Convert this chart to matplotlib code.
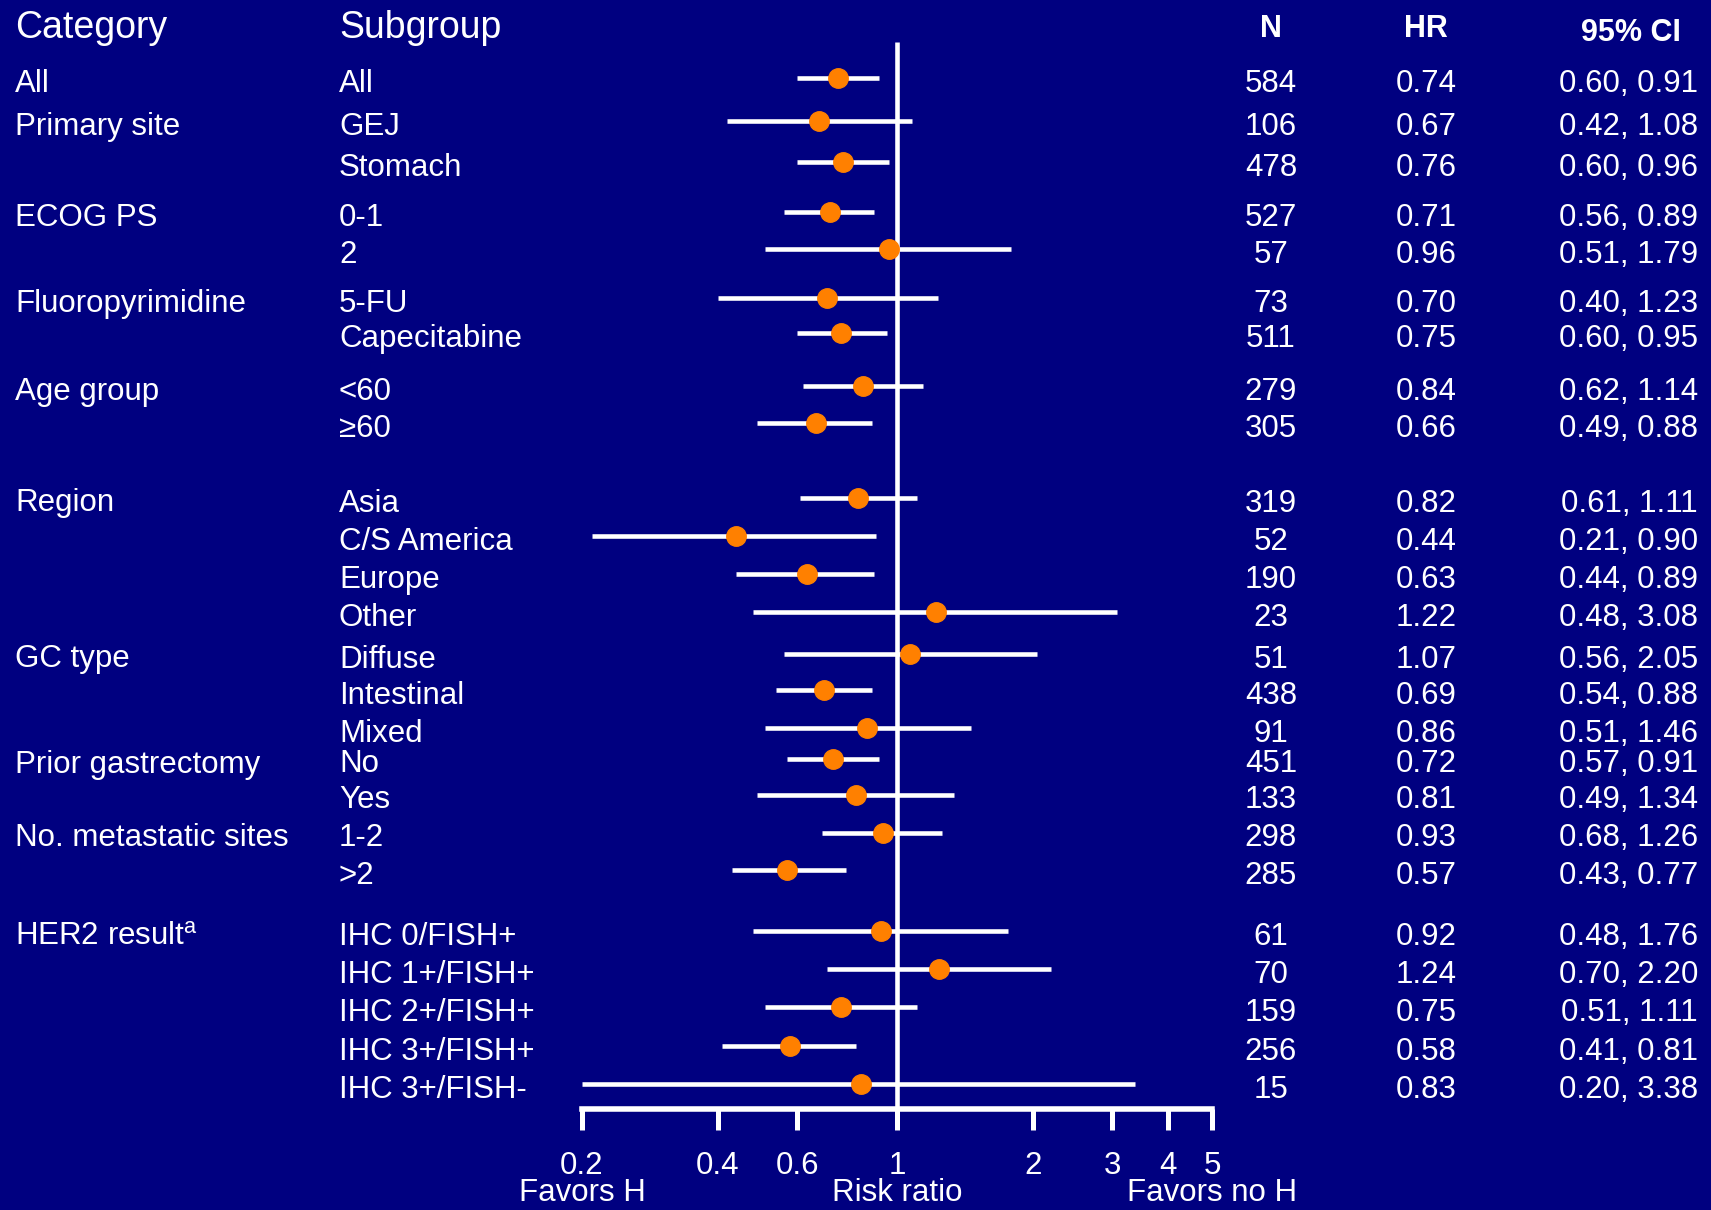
import matplotlib
matplotlib.use('Agg')
import matplotlib.pyplot as plt
import matplotlib.transforms as mtransforms

# Forest plot data: HR with 95% CI by subgroup
categories = ['All', 'Primary site', '', 'ECOG PS', '', 'Fluoropyrimidine', '',
              'Age group', '', 'Region', '', '', '', 'GC type', '', '',
              'Prior gastrectomy', '', 'No. metastatic sites', '',
              'HER2 result$^{\\mathrm{a}}$', '', '', '', '']
subgroups = ['All', 'GEJ', 'Stomach', '0-1', '2', '5-FU', 'Capecitabine',
             '<60', '\u226560', 'Asia', 'C/S America', 'Europe', 'Other',
             'Diffuse', 'Intestinal', 'Mixed', 'No', 'Yes', '1-2', '>2',
             'IHC 0/FISH+', 'IHC 1+/FISH+', 'IHC 2+/FISH+', 'IHC 3+/FISH+',
             'IHC 3+/FISH-']
n_patients = [584, 106, 478, 527, 57, 73, 511, 279, 305, 319, 52, 190, 23,
              51, 438, 91, 451, 133, 298, 285, 61, 70, 159, 256, 15]
hr = [0.74, 0.67, 0.76, 0.71, 0.96, 0.70, 0.75, 0.84, 0.66, 0.82, 0.44, 0.63,
      1.22, 1.07, 0.69, 0.86, 0.72, 0.81, 0.93, 0.57, 0.92, 1.24, 0.75, 0.58,
      0.83]
ci_low = [0.60, 0.42, 0.60, 0.56, 0.51, 0.40, 0.60, 0.62, 0.49, 0.61, 0.21,
          0.44, 0.48, 0.56, 0.54, 0.51, 0.57, 0.49, 0.68, 0.43, 0.48, 0.70,
          0.51, 0.41, 0.20]
ci_high = [0.91, 1.08, 0.96, 0.89, 1.79, 1.23, 0.95, 1.14, 0.88, 1.11, 0.90,
           0.89, 3.08, 2.05, 0.88, 1.46, 0.91, 1.34, 1.26, 0.77, 1.76, 2.20,
           1.11, 0.81, 3.38]
xticks = [0.2, 0.4, 0.6, 1, 2, 3, 4, 5]
xtick_labels = ['0.2', '0.4', '0.6', '1', '2', '3', '4', '5']

# layout: vertical position of each row in image pixels (top = 0)
row_y = [77.5, 121, 161.5, 211.5, 249, 298, 333, 386, 423, 497.5, 536, 574,
         612, 653.5, 689.5, 728, 758.5, 794.5, 832.5, 869.5, 931, 969, 1007,
         1045.5, 1083.5]

W, H = 1711, 1210
BG = '#000080'
ORANGE = '#FF8000'
plt.rcParams['font.family'] = ['Liberation Sans', 'DejaVu Sans']
plt.rcParams['mathtext.fontset'] = 'custom'
plt.rcParams['mathtext.rm'] = 'Liberation Sans'

fig = plt.figure(figsize=(W / 100, H / 100), dpi=100, facecolor=BG)
axis_y = 1109
ax = fig.add_axes([582 / W, (H - axis_y) / H, (1212 - 582) / W, axis_y / H])
ax.set_facecolor(BG)
ax.set_xscale('log')
ax.set_xlim(0.2, 5)
ax.set_ylim(axis_y, 0)

for s in ['top', 'left', 'right']:
    ax.spines[s].set_visible(False)
ax.spines['bottom'].set_color('white')
ax.spines['bottom'].set_linewidth(4)
ax.set_yticks([])
ax.set_xticks(xticks)
ax.set_xticklabels(xtick_labels)
ax.minorticks_off()
ax.tick_params(axis='x', direction='out', length=15, width=3.6, colors='white',
               labelsize=22.5, pad=15)

# reference line at 1
ax.vlines(1, 41.5, axis_y, color='white', lw=3.3, clip_on=False)

# CI bars and points
for i in range(len(hr)):
    ax.plot([ci_low[i], ci_high[i]], [row_y[i], row_y[i]], color='white',
            lw=3.3, solid_capstyle='butt', clip_on=False)
    ax.plot(hr[i], row_y[i], 'o', color=ORANGE, markersize=14, clip_on=False,
            zorder=3)

# text columns: x in figure pixels, y in row units
trans = mtransforms.blended_transform_factory(
    mtransforms.Affine2D().scale(1 / W, 1).__add__(fig.transFigure), ax.transData)
fs = 22.5
for i in range(len(subgroups)):
    yb = row_y[i] + 14
    if categories[i]:
        ax.text(15, yb, categories[i], transform=trans, color='white',
                fontsize=fs, va='baseline', ha='left')
    ax.text(339, yb, subgroups[i], transform=trans, color='white', fontsize=fs,
            va='baseline', ha='left')
    ax.text(1271, yb, str(n_patients[i]), transform=trans, color='white',
            fontsize=fs, va='baseline', ha='center')
    ax.text(1426, yb, '%.2f' % hr[i], transform=trans, color='white',
            fontsize=fs, va='baseline', ha='center')
    ax.text(1629, yb, '%.2f, %.2f' % (ci_low[i], ci_high[i]), transform=trans,
            color='white', fontsize=fs, va='baseline', ha='center')

# headers
ax.text(15, 38, 'Category', transform=trans, color='white', fontsize=27,
        va='baseline', ha='left')
ax.text(339, 38, 'Subgroup', transform=trans, color='white', fontsize=27,
        va='baseline', ha='left')
ax.text(1271, 37, 'N', transform=trans, color='white', fontsize=22,
        fontweight='bold', va='baseline', ha='center')
ax.text(1426, 37, 'HR', transform=trans, color='white', fontsize=22,
        fontweight='bold', va='baseline', ha='center')
ax.text(1631, 41, '95% CI', transform=trans, color='white', fontsize=22,
        fontweight='bold', va='baseline', ha='center')

# axis captions
ax.text(0.2, 1201, 'Favors H', color='white', fontsize=fs, ha='center',
        va='baseline', clip_on=False)
ax.text(1, 1201, 'Risk ratio', color='white', fontsize=fs, ha='center',
        va='baseline', clip_on=False)
ax.text(5, 1201, 'Favors no H', color='white', fontsize=fs, ha='center',
        va='baseline', clip_on=False)

fig.savefig('out.png', dpi=100, facecolor=BG)
